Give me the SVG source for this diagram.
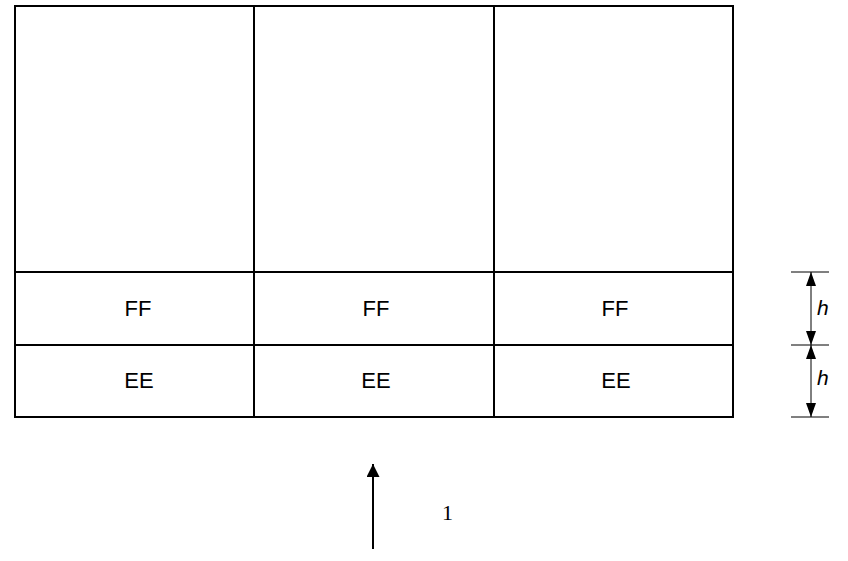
<svg xmlns="http://www.w3.org/2000/svg" width="848" height="561" viewBox="0 0 848 561">
<style>
.ln{stroke:#000;stroke-width:2;fill:none}
.thin{stroke:#000;stroke-width:1;fill:none}
.lbl{font-family:"Liberation Sans",Arial,sans-serif;font-size:22px;text-anchor:middle;fill:#000}
.h{font-family:"Liberation Sans",Arial,sans-serif;font-size:21px;font-style:italic;fill:#000}
.num{font-family:"Liberation Serif","Times New Roman",serif;font-size:22px;fill:#000}
</style>
<defs>
<marker id="ah" viewBox="0 0 14 10" refX="14" refY="5" markerWidth="14" markerHeight="10" markerUnits="userSpaceOnUse" orient="auto-start-reverse">
<path d="M0,0 L14,5 L0,10 z" fill="#000"/>
</marker>
<marker id="big" viewBox="0 0 10 10" refX="10" refY="5" markerWidth="19" markerHeight="13" markerUnits="userSpaceOnUse" orient="auto">
<path d="M0,0 L10,5 L0,10 z" fill="#000"/>
</marker>
</defs>
<g id="grid">
<rect class="ln" x="15" y="6" width="718" height="411"/>
<line class="ln" x1="254" y1="6" x2="254" y2="417"/>
<line class="ln" x1="494" y1="6" x2="494" y2="417"/>
<line class="ln" x1="15" y1="272" x2="733" y2="272"/>
<line class="ln" x1="15" y1="345" x2="733" y2="345"/>
</g>
<g id="cells">
<text class="lbl" x="138" y="316">FF</text>
<text class="lbl" x="376" y="316">FF</text>
<text class="lbl" x="615" y="316">FF</text>
<text class="lbl" x="139" y="388">EE</text>
<text class="lbl" x="376" y="388">EE</text>
<text class="lbl" x="616" y="388">EE</text>
</g>
<g id="connectors">
<line class="thin" x1="791" y1="272" x2="829" y2="272" stroke="#888"/>
<line class="thin" x1="791" y1="345" x2="829" y2="345" stroke="#888"/>
<line class="thin" x1="791" y1="417" x2="829" y2="417"/>
<line class="thin" x1="811" y1="272" x2="811" y2="345" marker-start="url(#ah)" marker-end="url(#ah)"/>
<line class="thin" x1="811" y1="345" x2="811" y2="417" marker-start="url(#ah)" marker-end="url(#ah)"/>
<line class="ln" x1="373" y1="549" x2="373" y2="464" marker-end="url(#big)"/>
</g>
<g id="labels">
<text class="h" x="817" y="315">h</text>
<text class="h" x="817" y="385">h</text>
<text class="num" x="442" y="520">1</text>
</g>
</svg>
